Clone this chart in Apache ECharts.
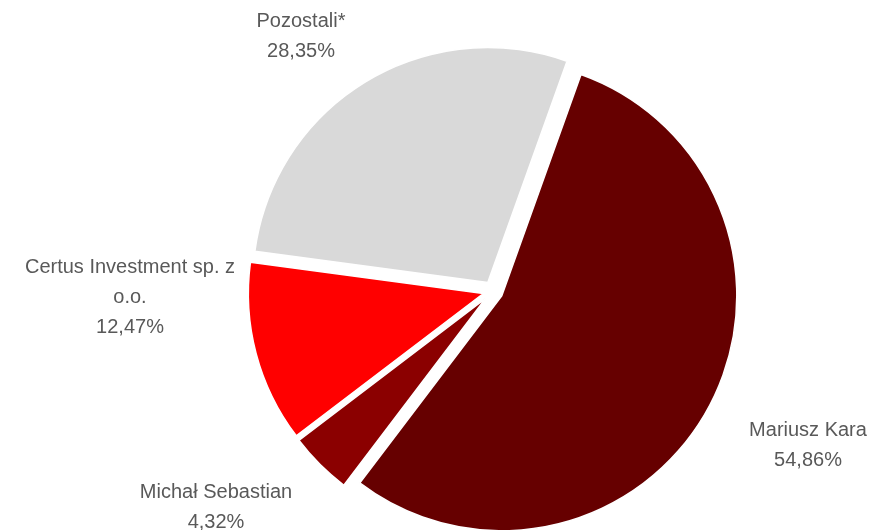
<!DOCTYPE html>
<html lang="pl">
<head>
  <meta charset="UTF-8">
  <title>Akcjonariat</title>
  <script src="https://cdn.jsdelivr.net/npm/echarts@6/dist/echarts.min.js"></script>
</head>
<body style="margin:0;background:#fff;">
  <div id="chart" style="width:875px;height:530px;"></div>
  <script>
    // dane
    var names = ['Mariusz Kara', 'Michał Sebastian', 'Certus Investment sp. z\no.o.', 'Pozostali*'];
    var values = [54.86, 4.32, 12.47, 28.35];
    var colors = ['#660000', '#8b0000', '#ff0000', '#d9d9d9'];
    // położenie etykiet (środek tekstu)
    var labelPos = [[808, 445], [216, 507], [130, 297], [301, 36]];

    var startAngle = 70.3;
    var offset = 10;

    // kąt środka każdego wycinka (do korekty przesunięcia wysuniętych wycinków)
    var total = 0;
    values.forEach(function (v) { total += v; });
    var midAngles = [];
    var acc = 0;
    values.forEach(function (v) {
      var a = startAngle - (acc + v / 2) / total * 360;
      midAngles.push(a * Math.PI / 180);
      acc += v;
    });

    var chart = echarts.init(document.getElementById('chart'));

    var data = [];
    for (var i = 0; i < names.length; i++) {
      data.push({
        name: names[i],
        value: values[i],
        selected: true,
        itemStyle: { color: colors[i] },
        select: { itemStyle: { color: colors[i] } }
      });
    }

    var option = {
      animation: false,
      series: [{
        type: 'pie',
        center: [493, 291],
        radius: 235,
        startAngle: startAngle,
        clockwise: true,
        selectedMode: 'multiple',
        selectedOffset: offset,
        emphasis: { disabled: true },
        itemStyle: { borderColor: '#fff', borderWidth: 1.5 },
        label: {
          show: true,
          position: 'outside',
          overflow: 'none',
          fontFamily: 'Liberation Sans',
          fontSize: 20,
          lineHeight: 30,
          color: '#595959',
          formatter: function (p) {
            return p.name + '\n' + p.value.toFixed(2).replace('.', ',') + '%';
          }
        },
        labelLine: { show: false },
        labelLayout: function (p) {
          var i = p.dataIndex;
          var r = p.labelRect;
          var ax = r.x + r.width / 2;
          if (p.align === 'right') ax = r.x + r.width;
          else if (p.align === 'left') ax = r.x;
          var tx = labelPos[i][0] - offset * Math.cos(midAngles[i]);
          var ty = labelPos[i][1] + offset * Math.sin(midAngles[i]);
          return {
            align: 'center',
            dx: tx - ax,
            dy: ty - (r.y + r.height / 2)
          };
        },
        data: data
      }]
    };
    chart.setOption(option);
  </script>
</body>
</html>
